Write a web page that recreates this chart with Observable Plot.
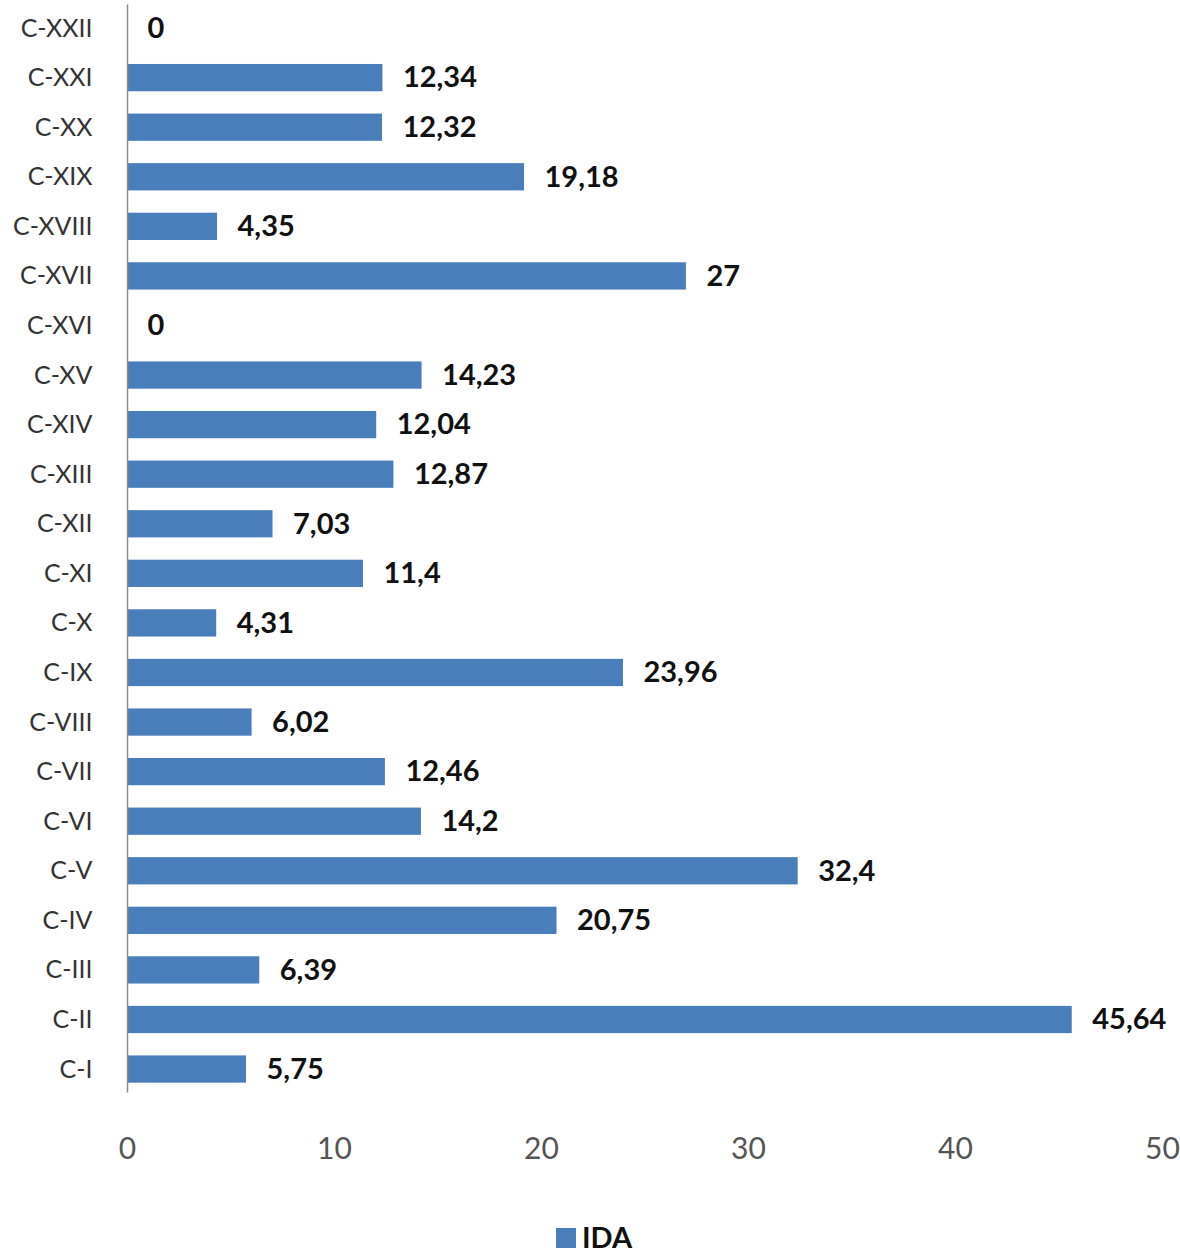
<!DOCTYPE html>
<html>
<head>
<meta charset="utf-8">
<script src="https://cdn.jsdelivr.net/npm/d3@7"></script>
<script src="https://cdn.jsdelivr.net/npm/@observablehq/plot@0.6"></script>
<style>
  body { margin: 0; background: #fff; font-family: Lato, sans-serif; }
  #legend { position: relative; height: 59px; }
  #legend .sw { position: absolute; left: 556px; top: 33px; width: 20px; height: 20px; background: #4a7ebb; }
  #legend .lb { position: absolute; left: 582px; top: 25px; font-size: 29px; font-weight: bold; color: #111; line-height: 34px; }
</style>
</head>
<body>
<div id="chart"></div>
<div id="legend"><div class="sw"></div><div class="lb">IDA</div></div>
<script>
const categories = ["C-I","C-II","C-III","C-IV","C-V","C-VI","C-VII","C-VIII","C-IX","C-X","C-XI","C-XII","C-XIII","C-XIV","C-XV","C-XVI","C-XVII","C-XVIII","C-XIX","C-XX","C-XXI","C-XXII"];
const values = [5.75,45.64,6.39,20.75,32.4,14.2,12.46,6.02,23.96,4.31,11.4,7.03,12.87,12.04,14.23,0,27,4.35,19.18,12.32,12.34,0];
const xTicks = [0,10,20,30,40,50];
const seriesName = "IDA";

const data = categories.map((c, i) => ({cat: c, value: values[i], label: String(values[i]).replace(".", ",")}));
const color = "#4a7ebb";

const chart = Plot.plot({
  width: 1180,
  height: 1195,
  marginLeft: 127,
  marginRight: 18,
  marginTop: 4.5,
  marginBottom: 102.4,
  style: {fontFamily: "Lato, sans-serif", background: "#fff"},
  x: {domain: [0, 50], ticks: xTicks, label: null},
  y: {domain: categories.slice().reverse(), paddingInner: 0.45, paddingOuter: 0.2, round: false, label: null},
  marks: [
    Plot.barX(data, {x: "value", y: "cat", fill: color}),
    Plot.ruleX([0], {stroke: "#8a8a8a", strokeWidth: 1.5}),
    Plot.text(data, {x: "value", y: "cat", text: "label", textAnchor: "start", dx: 20, fontSize: 29, fontWeight: "bold", fill: "#111"}),
    Plot.axisX({ticks: xTicks, tickSize: 0, tickPadding: 45, fontSize: 30, label: null, color: "#555"}),
    Plot.axisY({tickSize: 0, tickPadding: 35, fontSize: 25, label: null, color: "#333"})
  ]
});
document.getElementById("chart").appendChild(chart);
</script>
</body>
</html>
